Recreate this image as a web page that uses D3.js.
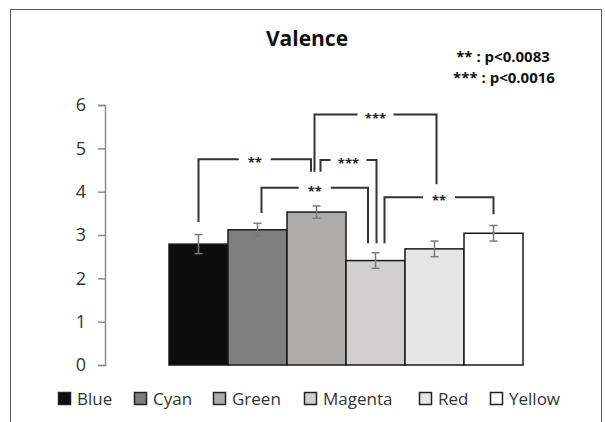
<!DOCTYPE html>
<html>
<head>
<meta charset="utf-8">
<script src="https://d3js.org/d3.v7.min.js"></script>
<style>
  body { margin: 0; background: #fff; }
  text { font-family: "Open Sans", sans-serif; }
</style>
</head>
<body>
<svg width="605" height="422"></svg>
<script>
// data
var categories = ["Blue", "Cyan", "Green", "Magenta", "Red", "Yellow"];
var means = [2.79, 3.12, 3.53, 2.41, 2.68, 3.04];
var errors = [0.22, 0.15, 0.14, 0.18, 0.18, 0.18];
var colors = ["#0d0d0d", "#7f7f7f", "#aeabab", "#d0cece", "#e7e6e6", "#ffffff"];
var yTicks = [0, 1, 2, 3, 4, 5, 6];

// significance brackets: from/to category, label, top level, leg ends (data units), leg offset (px)
var brackets = [
  {from: "Green", to: "Red", label: "***", top: 5.78, y1: 4.46, y2: 4.17, dx1: -2, dx2: 2},
  {from: "Blue", to: "Green", label: "**", top: 4.75, y1: 3.30, y2: 4.46, dx1: 0, dx2: -5.5},
  {from: "Green", to: "Magenta", label: "***", top: 4.73, y1: 4.46, y2: 2.81, dx1: 4, dx2: 1},
  {from: "Cyan", to: "Magenta", label: "**", top: 4.09, y1: 3.51, y2: 2.81, dx1: 4, dx2: -7.5},
  {from: "Magenta", to: "Yellow", label: "**", top: 3.87, y1: 2.81, y2: 3.48, dx1: 9, dx2: 0}
];

var svg = d3.select("svg");

// outer frame
svg.append("path")
  .attr("d", "M10.5,430 V9.5 H601.5 V430")
  .attr("fill", "none")
  .attr("stroke", "#555")
  .attr("stroke-width", 1);

var x = d3.scaleBand().domain(categories).range([169, 523]).padding(0);
var y = d3.scaleLinear().domain([0, 6]).range([365, 105]);

// y axis
var yAxis = svg.append("g")
  .attr("transform", "translate(105,0)")
  .call(d3.axisLeft(y).tickValues(yTicks).tickSize(7).tickPadding(12).tickFormat(d3.format("d")));
yAxis.selectAll("path, line").attr("stroke", "#8c8c8c").attr("stroke-width", 1.5);
yAxis.selectAll("text").attr("font-size", 18).attr("fill", "#333")
  .style("font-family", "'Open Sans', sans-serif");

// bars
svg.append("g").selectAll("rect")
  .data(categories)
  .enter().append("rect")
  .attr("x", function(d) { return x(d); })
  .attr("y", function(d, i) { return y(means[i]); })
  .attr("width", x.bandwidth())
  .attr("height", function(d, i) { return y(0) - y(means[i]); })
  .attr("fill", function(d, i) { return colors[i]; })
  .attr("stroke", "#1a1a1a")
  .attr("stroke-width", 1.5);

// error bars
var eb = svg.append("g").attr("stroke", "#7a7a7a").attr("stroke-width", 1.5);
categories.forEach(function(c, i) {
  var cx = x(c) + x.bandwidth() / 2;
  var hi = y(means[i] + errors[i]), lo = y(means[i] - errors[i]);
  eb.append("line").attr("x1", cx).attr("x2", cx).attr("y1", hi).attr("y2", lo);
  eb.append("line").attr("x1", cx - 4).attr("x2", cx + 4).attr("y1", hi).attr("y2", hi);
  eb.append("line").attr("x1", cx - 4).attr("x2", cx + 4).attr("y1", lo).attr("y2", lo);
});

// brackets
var bg = svg.append("g");
brackets.forEach(function(b) {
  var xa = x(b.from) + x.bandwidth() / 2 + b.dx1;
  var xb = x(b.to) + x.bandwidth() / 2 + b.dx2;
  var yt = y(b.top);
  var mid = (xa + xb) / 2;
  var gap = b.label.length === 3 ? 18 : 16;
  bg.append("path")
    .attr("d", "M" + xa + "," + y(b.y1) + "V" + yt + "H" + (mid - gap))
    .attr("fill", "none").attr("stroke", "#333").attr("stroke-width", 2);
  bg.append("path")
    .attr("d", "M" + (mid + gap) + "," + yt + "H" + xb + "V" + y(b.y2))
    .attr("fill", "none").attr("stroke", "#333").attr("stroke-width", 2);
  bg.append("text")
    .attr("x", mid).attr("y", yt + 8)
    .attr("text-anchor", "middle")
    .attr("font-size", 13).attr("font-weight", "bold").attr("fill", "#222")
    .text(b.label);
});

// title
svg.append("text")
  .attr("x", 307).attr("y", 46)
  .attr("text-anchor", "middle")
  .attr("font-size", 21).attr("font-weight", "bold").attr("fill", "#111")
  .text("Valence");

// p-value note
svg.append("text").attr("x", 503).attr("y", 62).attr("text-anchor", "middle")
  .attr("font-size", 15).attr("font-weight", "bold").attr("fill", "#111")
  .text("** : p<0.0083");
svg.append("text").attr("x", 504).attr("y", 83).attr("text-anchor", "middle")
  .attr("font-size", 15).attr("font-weight", "bold").attr("fill", "#111")
  .text("*** : p<0.0016");

// legend
var legendX = [58, 134, 213, 304, 419, 490];
var lg = svg.append("g");
categories.forEach(function(c, i) {
  lg.append("rect")
    .attr("x", legendX[i] + 0.5).attr("y", 392.5)
    .attr("width", 12).attr("height", 12)
    .attr("fill", colors[i]).attr("stroke", "#222").attr("stroke-width", 1.5);
  lg.append("text")
    .attr("x", legendX[i] + 19).attr("y", 405)
    .attr("font-size", 17).attr("fill", "#333")
    .text(c);
});
</script>
</body>
</html>
